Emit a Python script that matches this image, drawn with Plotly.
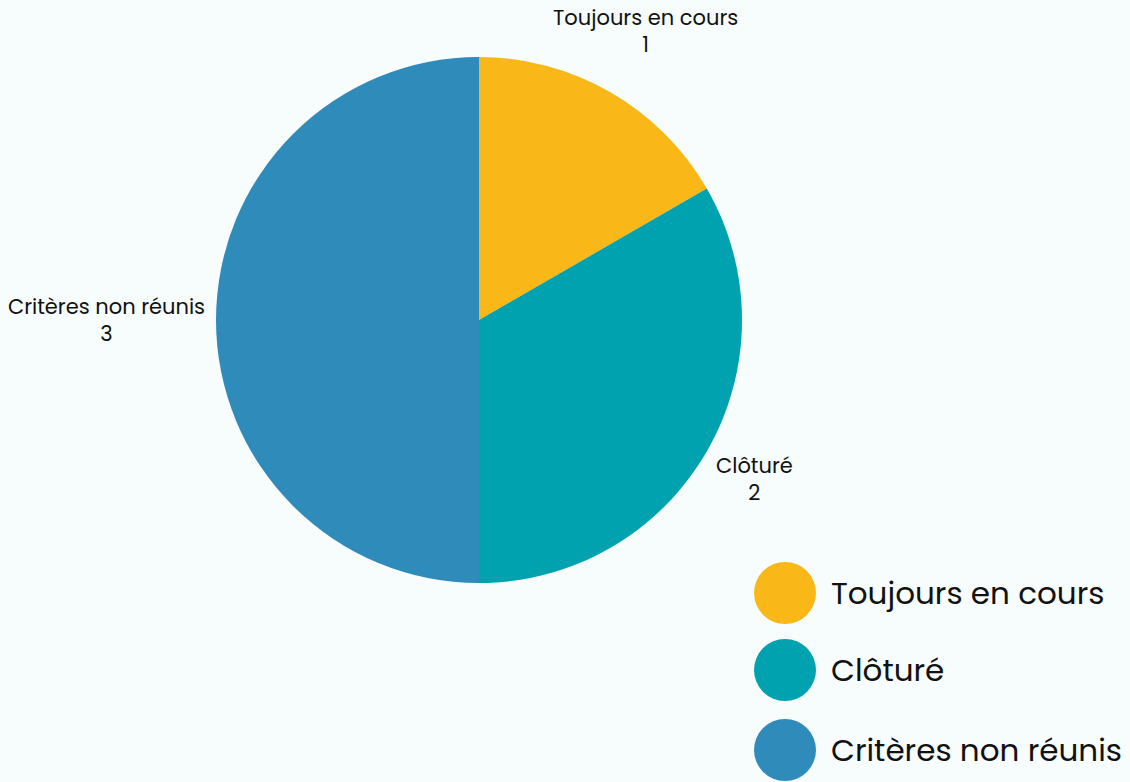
import math
import plotly.graph_objects as go

labels = ["Toujours en cours", "Clôturé", "Critères non réunis"]
values = [1, 2, 3]
colors = ["#F9B817", "#00A2AF", "#2E8BBA"]

W, H = 1130, 782
BG = "#F7FCFD"
FONT = "Poppins, Open Sans, sans-serif"
LABEL_SIZE = 21
LEGEND_SIZE = 31

cx, cy, r = 479, 320, 263

fig = go.Figure()
fig.add_trace(go.Pie(
    labels=labels,
    values=values,
    sort=False,
    direction="clockwise",
    rotation=0,
    marker=dict(colors=colors, line=dict(width=0)),
    textinfo="none",
    showlegend=False,
    hoverinfo="label+value",
    domain=dict(x=[(cx - r) / W, (cx + r) / W], y=[1 - (cy + r) / H, 1 - (cy - r) / H]),
))

annotations = []
shapes = []

# outside labels: box pushed out along slice mid-angle until its nearest point is at r + gap
gap = 10
total = sum(values)
acc = 0.0
for lab, val in zip(labels, values):
    mid = (acc + val / 2) / total * 2 * math.pi
    acc += val
    ux, uy = math.sin(mid), -math.cos(mid)
    w = max(len(lab), len(str(val))) * 0.5 * LABEL_SIZE
    h = 2 * 1.3 * LABEL_SIZE

    def nearest(D):
        bx, by = D * ux, D * uy
        dx = max(abs(bx) - w / 2, 0)
        dy = max(abs(by) - h / 2, 0)
        return math.hypot(dx, dy)

    lo, hi = 0.0, 2000.0
    for _ in range(60):
        m = (lo + hi) / 2
        if nearest(m) < r + gap:
            lo = m
        else:
            hi = m
    px, py = cx + lo * ux, cy + lo * uy
    annotations.append(dict(text=f"{lab}<br>{val}", xref="paper", yref="paper",
                            x=px / W, y=1 - py / H, xanchor="center", yanchor="middle",
                            align="center", showarrow=False,
                            font=dict(family=FONT, size=LABEL_SIZE, color="#111111")))

# custom legend with large circles
leg_x, leg_r = 785, 31
leg_ys = [593, 670, 750]
for lab, col, ly in zip(labels, colors, leg_ys):
    shapes.append(dict(type="circle", xref="paper", yref="paper",
                       x0=(leg_x - leg_r) / W, x1=(leg_x + leg_r) / W,
                       y0=1 - (ly + leg_r) / H, y1=1 - (ly - leg_r) / H,
                       fillcolor=col, line=dict(width=0)))
    annotations.append(dict(text=lab, xref="paper", yref="paper",
                            x=829 / W, y=1 - ly / H, xanchor="left", yanchor="middle",
                            showarrow=False,
                            font=dict(family=FONT, size=LEGEND_SIZE, color="#111111")))

fig.update_layout(
    width=W, height=H,
    margin=dict(l=0, r=0, t=0, b=0),
    paper_bgcolor=BG, plot_bgcolor=BG,
    shapes=shapes, annotations=annotations,
    font=dict(family=FONT),
)

fig.write_html("out.html",
               config={"displayModeBar": False},
               post_script="document.body.style.margin='0px';document.body.style.background='%s';" % BG)
